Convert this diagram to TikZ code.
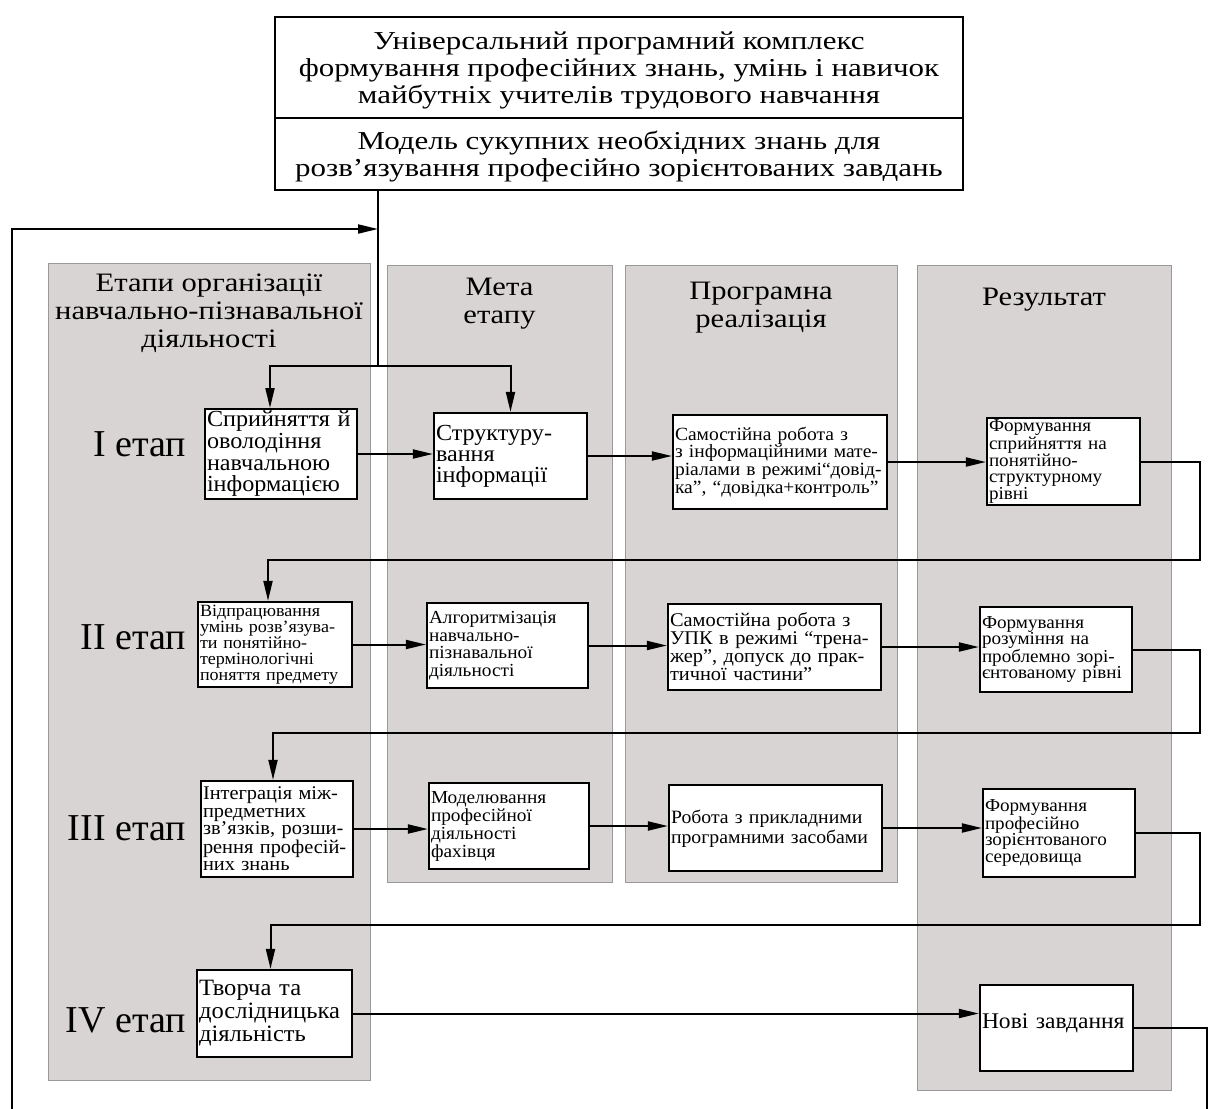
\documentclass[tikz,border=0pt]{standalone}
\usepackage{fontspec}
\setmainfont{Liberation Serif}
\newfontfamily\topfont[FakeStretch=1.2]{Liberation Serif}
\newfontfamily\headfont[FakeStretch=1.15]{Liberation Serif}
\newfontfamily\boxfont[FakeStretch=1.05]{Liberation Serif}
\usepackage{tikz}
\usetikzlibrary{arrows.meta, positioning}
\definecolor{panelgray}{RGB}{216,212,212}
\tikzset{panel/.style={rectangle,draw=gray!80,line width=0.8pt,fill=panelgray,inner sep=0pt},
         head/.style={align=center,inner sep=0pt,font=\headfont\fontsize{26.6}{28}\selectfont},
         title/.style={rectangle,draw,line width=2pt,fill=white,align=center,minimum width=688,text depth=0pt,font=\topfont\fontsize{25.8}{27}\selectfont},
         stepbox/.style={rectangle,draw,line width=2.2pt,fill=white,align=left,inner sep=2pt},
         txt/.style 2 args={font=\boxfont\fontsize{#1}{#2}\selectfont},
         stage/.style={anchor=east,inner sep=0pt,font=\fontsize{38}{40}\selectfont},
         arrow/.style={-{Triangle[length=20pt,width=9pt]},line width=2pt},
         link/.style={line width=2pt}}
\begin{document}
\begin{tikzpicture}[x=1pt,y=-1pt]
    \useasboundingbox (0,0) rectangle (1211,1109);
    % Columns
    \node (colStage) [panel, minimum width=322, minimum height=817] at (209,671.5) {};
    \node (colGoal) [panel, minimum width=225, minimum height=617] at (499.5,573.5) {};
    \node (colProg) [panel, minimum width=272, minimum height=617] at (761,573.5) {};
    \node (colRes) [panel, minimum width=254, minimum height=825] at (1044,677.5) {};
    \node (headStage) [head] at (209,313) {Етапи організації\\навчально-пізнавальної\\діяльності};
    \node (headGoal) [head] at (499.5,304) {Мета\\етапу};
    \node (headProg) [head] at (761,308) {Програмна\\реалізація};
    \node (headRes) [head] at (1044,300) {Результат};
    % Title block
    \node (titleA) [title, minimum height=101] at (619,67.5) {Універсальний програмний комплекс\\формування професійних знань, умінь і навичок\\майбутніх учителів трудового навчання};
    \node (titleB) [title, minimum height=72] at (619,154) {Модель сукупних необхідних знань для\\розв’язування професійно зорієнтованих завдань};
    % Stage labels
    \node (lab1) [stage] at (186,444) {I етап};
    \node (lab2) [stage] at (186,637) {II етап};
    \node (lab3) [stage] at (186,828) {III етап};
    \node (lab4) [stage] at (186,1020) {IV етап};
    % Stage I
    \node (s1a) [stepbox, txt={23}{21.7}, minimum width=152, minimum height=86, text width=148] at (281,454) {Сприйняття й\\оволодіння\\навчальною\\інформацією};
    \node (s1b) [stepbox, txt={23}{21}, minimum width=153, minimum height=86, text width=149] at (510.5,456) {Структуру-\\вання\\інформації};
    \node (s1c) [stepbox, txt={18.6}{17.7}, minimum width=214, minimum height=94, text width=210] at (780,462) {Самостійна робота з\\з інформаційними мате-\\ріалами в режимі“довід-\\ка”, “довідка+контроль”};
    \node (s1d) [stepbox, txt={18.2}{15.8}, minimum width=153, minimum height=87, text width=149] at (1063.5,461.5) {Формування\\сприйняття на\\понятійно-\\структурному\\рівні};
    % Stage II
    \node (s2a) [stepbox, txt={17.2}{16}, minimum width=154, minimum height=85, text width=150] at (275,644.5) {Відпрацювання\\умінь розв’язува-\\ти понятійно-\\термінологічні\\поняття предмету};
    \node (s2b) [stepbox, txt={18.4}{17.5}, minimum width=161, minimum height=85, text width=157] at (507.5,645.5) {Алгоритмізація\\навчально-\\пізнавальної\\діяльності};
    \node (s2c) [stepbox, txt={19.4}{16.5}, minimum width=213, minimum height=86, text width=209] at (774.5,647) {Самостійна робота з\\УПК в режимі “трена-\\жер”, допуск до прак-\\тичної частини”};
    \node (s2d) [stepbox, txt={18.2}{16}, minimum width=152, minimum height=85, text width=148] at (1056,649.5) {Формування\\розуміння на\\проблемно зорі-\\єнтованому рівні};
    % Stage III
    \node (s3a) [stepbox, txt={19.4}{17.5}, minimum width=152, minimum height=96, text width=148] at (277,829) {Інтеграція між-\\предметних\\зв’язків, розши-\\рення професій-\\них знань};
    \node (s3b) [stepbox, txt={18.4}{18}, minimum width=160, minimum height=86, text width=156] at (509,826) {Моделювання\\професійної\\діяльності\\фахівця};
    \node (s3c) [stepbox, txt={18.8}{20}, text depth=22, minimum width=213, minimum height=86, text width=209] at (775.5,828) {Робота з прикладними\\програмними засобами};
    \node (s3d) [stepbox, txt={18.2}{16.5}, minimum width=152, minimum height=88, text width=148] at (1059,833) {Формування\\професійно\\зорієнтованого\\середовища};
    % Stage IV
    \node (s4a) [stepbox, txt={23.4}{23}, minimum width=155, minimum height=87, text width=151] at (274.5,1013.5) {Творча та\\дослідницька\\діяльність};
    \node (s4d) [stepbox, txt={22.4}{22}, text depth=14, minimum width=153, minimum height=86, text width=149] at (1056.5,1028) {Нові завдання};
    % Connectors
    \coordinate (split) at (378,366);
    \coordinate (fbin) at (378,229);
    \coordinate (loopL) at (12,1109);
    \coordinate (loopR) at (1207,1109);
    \draw[link] (titleB.south -| split) -- (split);
    \draw[arrow] (split) -| ([xshift=-11]s1a.north);
    \draw[arrow] (split) -| (s1b.north);
    \draw[arrow] (loopL) |- (fbin);
    \draw[arrow] (s1a.east) -- (s1a.east -| s1b.west);
    \draw[arrow] (s1b.east) -- (s1b.east -| s1c.west);
    \draw[arrow] (s1c.east) -- (s1c.east -| s1d.west);
    \draw[arrow] (s1d.east) -| (1200,560) -| ([xshift=-7]s2a.north);
    \draw[arrow] (s2a.east) -- (s2a.east -| s2b.west);
    \draw[arrow] (s2b.east) -- (s2b.east -| s2c.west);
    \draw[arrow] (s2c.east) -- (s2c.east -| s2d.west);
    \draw[arrow] (s2d.east) -| (1200,733) -| ([xshift=-4]s3a.north);
    \draw[arrow] (s3a.east) -- (s3a.east -| s3b.west);
    \draw[arrow] (s3b.east) -- (s3b.east -| s3c.west);
    \draw[arrow] (s3c.east) -- (s3c.east -| s3d.west);
    \draw[arrow] (s3d.east) -| (1200,925) -| ([xshift=-4]s4a.north);
    \draw[arrow] (s4a.east) -- (s4a.east -| s4d.west);
    \draw[link] (s4d.east) -| (loopR);
\end{tikzpicture}
\end{document}
